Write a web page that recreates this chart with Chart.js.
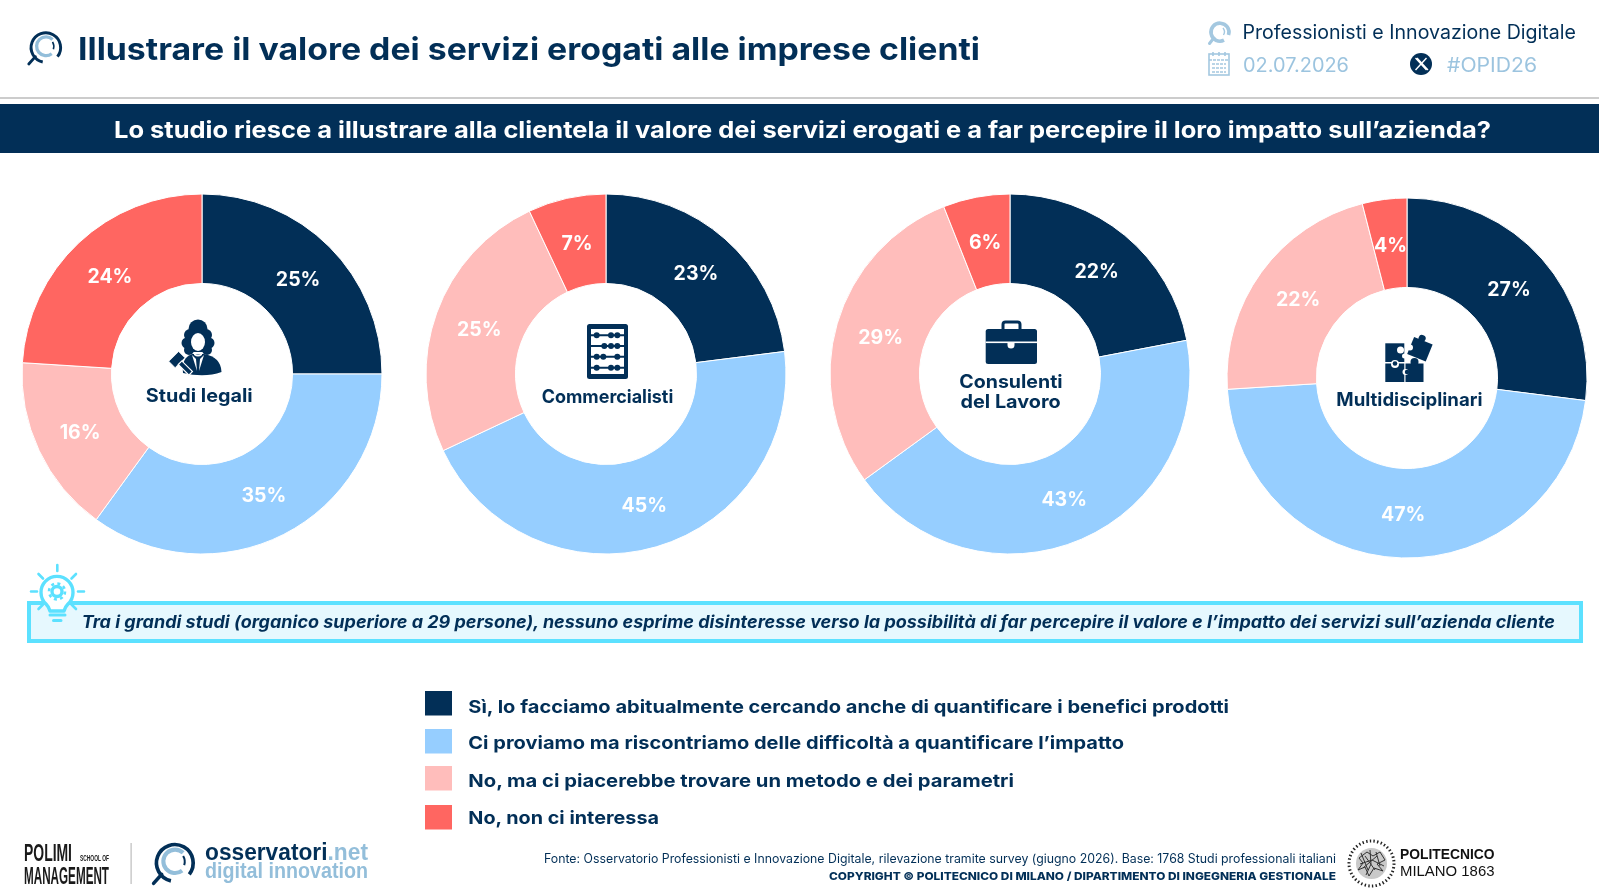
<!DOCTYPE html>
<html lang="it">
<head>
<meta charset="utf-8">
<title>Illustrare il valore dei servizi erogati alle imprese clienti</title>
<script src="https://cdn.jsdelivr.net/npm/chart.js@4"></script>
<style>
  html, body { margin: 0; padding: 0; background: #fff; }
  #page { position: relative; width: 1599px; height: 895px; overflow: hidden; }
  #page canvas { position: absolute; }
  #art { position: absolute; left: 0; top: 0; }
  text { font-family: Inter, sans-serif; }
</style>
</head>
<body>
<div id="page">
  <svg id="art" width="1599" height="895" viewBox="0 0 1599 895" xmlns="http://www.w3.org/2000/svg">
    <defs>
      <!-- observatory lens, drawn around 0,0 -->
      <g id="lensNavy" fill="none">
        <path d="M-4 19.5 A18 18 0 1 1 14 13" stroke="#022F57" stroke-width="3.6"/>
        <path d="M8 -8 A11.5 11.5 0 1 0 7 9.5" stroke="#93BEDA" stroke-width="4"/>
        <path d="M8 -5 A11 11 0 0 1 9 4" stroke="#022F57" stroke-width="2"/>
        <path d="M-13 13 L-21 22" stroke="#022F57" stroke-width="3.4" stroke-linecap="round"/>
      </g>
      <g id="lensPale" fill="none">
        <path d="M4 8.2 A9 9 0 1 1 8.5 3" stroke="#A4C8E0" stroke-width="3.6"/>
        <path d="M3 -4 A6 6 0 0 1 3.5 3" stroke="#A4C8E0" stroke-width="1.4"/>
        <path d="M-7 7 L-10.5 11.5" stroke="#A4C8E0" stroke-width="3" stroke-linecap="round"/>
      </g>
    </defs>

    <!-- header -->
    <use href="#lensNavy" transform="translate(46 46) scale(.82)"/>
    <use href="#lensPale" transform="translate(1220 32)"/>
    <rect x="1209" y="54" width="20" height="21" fill="none" stroke="#A4C8E0" stroke-width="1.6"/>
    <path d="M1209 60 H1229 M1212 64 H1226 M1212 68 H1226 M1212 72 H1226" stroke="#A4C8E0" stroke-width="1.6" stroke-dasharray="3 1"/>
    <path d="M1213 52 V56 M1219 52 V56 M1225 52 V56" stroke="#A4C8E0" stroke-width="1.6"/>
    <circle cx="1421" cy="64" r="11" fill="#022F57"/>
    <path d="M1415.5 58 L1426.5 70 M1417 58 L1428 70" stroke="#fff" stroke-width="1.3"/>
    <path d="M1426.5 58 L1415.5 70" stroke="#fff" stroke-width="1.4"/>
    <rect x="0" y="97" width="1599" height="2" fill="#CCCCCC"/>
    <rect x="0" y="104" width="1599" height="49" fill="#022F57"/>

    <!-- callout box and bulb -->
    <rect x="29" y="603" width="1552" height="38" fill="#E6F8FE" stroke="#5CE1FF" stroke-width="4"/>
    <path d="M46 604 A16 16 0 1 1 68 604 Q65 607 64 611 H50 Q49 607 46 604 Z" fill="#fff" stroke="#5CE1FF" stroke-width="3.4" stroke-linejoin="round"/>
    <circle cx="57" cy="591.5" r="5" fill="none" stroke="#5CE1FF" stroke-width="3.4"/>
    <circle cx="57" cy="591.5" r="8" fill="none" stroke="#5CE1FF" stroke-width="2.6" stroke-dasharray="3 3.3"/>
    <path d="M50 615 H65 M53.5 620.5 H61" stroke="#5CE1FF" stroke-width="3" stroke-linecap="round"/>
    <path d="M57.3 565 V571 M38.5 574 L43 578.5 M76 574 L71.5 578.5 M31 591.5 H37 M78 591.5 H84 M38.5 609 L43 604.5 M76 609 L71.5 604.5" stroke="#5CE1FF" stroke-width="2.6" stroke-linecap="round"/>

    <!-- lawyer -->
    <g fill="#022F57">
      <circle cx="198" cy="329" r="9.5"/><circle cx="190" cy="335" r="6"/><circle cx="206" cy="335" r="6"/>
      <circle cx="187" cy="343" r="5.5"/><circle cx="209" cy="343" r="5.5"/><circle cx="189" cy="350" r="5"/><circle cx="207" cy="350" r="5"/>
      <rect x="190" y="334" width="16" height="18"/>
      <path d="M183 373 Q181 358 192 354 H204 Q221 357 221.5 372 Q205 378 183 373 Z"/>
    </g>
    <ellipse cx="198" cy="342" rx="7" ry="9" fill="#fff"/>
    <path d="M192 355 L197 371 L196 359 Z M204 355 L199 371 L200 359 Z M194 353 Q198 356 202 353 L202 355 Q198 358 194 355 Z" fill="#fff"/>
    <g transform="rotate(45 179 361)">
      <rect x="172" y="354.5" width="9" height="14" fill="#022F57" stroke="#fff" stroke-width=".8"/>
      <rect x="181" y="359" width="15" height="5" fill="#022F57" stroke="#fff" stroke-width="1.2"/>
    </g>

    <!-- abacus -->
    <rect x="587" y="324" width="41" height="55" rx="2.5" fill="#022F57"/>
    <rect x="591" y="329" width="33" height="45" fill="#fff"/>
    <path d="M591 335.3 H624 M591 346 H624 M591 356.7 H624 M591 367.7 H624" stroke="#022F57" stroke-width="2"/>
    <g fill="#022F57">
      <circle cx="596.7" cy="335.3" r="3"/><circle cx="611" cy="335.3" r="3"/><circle cx="617.3" cy="335.3" r="3"/>
      <circle cx="604.3" cy="346" r="3"/><circle cx="611" cy="346" r="3"/><circle cx="617.3" cy="346" r="3"/>
      <circle cx="596.7" cy="356.7" r="3"/><circle cx="603.3" cy="356.7" r="3"/><circle cx="617.3" cy="356.7" r="3"/>
      <circle cx="596.7" cy="367.7" r="3"/><circle cx="611" cy="367.7" r="3"/><circle cx="617.3" cy="367.7" r="3"/>
    </g>

    <!-- briefcase -->
    <rect x="1003" y="322" width="17" height="11" rx="2.5" fill="none" stroke="#022F57" stroke-width="3"/>
    <rect x="985.7" y="329" width="51.3" height="35" rx="2.5" fill="#022F57"/>
    <rect x="985.7" y="341.5" width="51.3" height="1.6" fill="#fff"/>
    <path d="M1007.5 342 H1014.5 V345 A3.5 3.5 0 0 1 1007.5 345 Z" fill="#fff"/>

    <!-- puzzle -->
    <g fill="#022F57">
      <rect x="1385.3" y="343.3" width="19" height="18.7"/>
      <rect x="1385.3" y="363.5" width="19" height="18.5"/>
      <rect x="1405.5" y="363.5" width="18" height="18.5"/>
      <circle cx="1414.5" cy="362" r="4"/>
      <g transform="rotate(22 1420 349)">
        <rect x="1410" y="340" width="20" height="18.5"/>
        <circle cx="1418" cy="338.5" r="3.6"/>
      </g>
    </g>
    <g fill="#fff">
      <circle cx="1400.5" cy="350" r="3.5"/>
      <circle cx="1404.5" cy="356" r="2.5"/>
      <circle cx="1395" cy="364" r="4"/>
      <circle cx="1405.5" cy="372" r="3"/>
      <circle cx="1410" cy="347.5" r="3"/>
    </g>
    <circle cx="1395" cy="363.5" r="2.3" fill="#022F57"/>
    <circle cx="1407" cy="372" r="2.2" fill="#022F57"/>

    <!-- footer marks -->
    <rect x="130.5" y="843" width="1.2" height="41" fill="#BDBDBD"/>
    <use href="#lensNavy" transform="translate(175 861) scale(1.02)"/>
    <circle cx="1371.5" cy="863.5" r="22.5" fill="none" stroke="#222" stroke-width="3" stroke-dasharray="1.4 2.3"/>
    <circle cx="1371.5" cy="863.5" r="15.5" fill="#C9C9C9"/>
    <path d="M1359 858 L1367 852 L1373 856 L1380 852 L1385 860 L1377 864 L1383 871 L1374 868 L1369 876 L1365 867 L1358 870 L1363 863 Z M1365 856 L1375 870 M1377 856 L1363 868 M1360 864 L1372 860 L1384 866 M1370 850 L1371 864 L1366 875 M1376 852 L1380 866 M1361 853 L1368 870" fill="none" stroke="#333" stroke-width="1"/>
  </svg>
</div>

<script>
// answer labels and slice colours, same order as the values below
const answers = [
    'Sì, lo facciamo abitualmente cercando anche di quantificare i benefici prodotti',
    'Ci proviamo ma riscontriamo delle difficoltà a quantificare l’impatto',
    'No, ma ci piacerebbe trovare un metodo e dei parametri',
    'No, non ci interessa',
];
const sliceColors = ['#022F57', '#96CEFF', '#FFBDBB', '#FF6661'];

const studiLegali = [25, 35, 16, 24];
const commercialisti = [23, 45, 25, 7];
const consulentiLavoro = [22, 43, 29, 6];
const multidisciplinari = [27, 47, 22, 4];

const NAVY = '#022F57';
const PALE = '#9CC4DF';
const SVG_NS = 'http://www.w3.org/2000/svg';
const art = document.getElementById('art');
const page = document.getElementById('page');

// text stretched to run exactly from x to xEnd, the sans here is narrower than the layout needs
function label(str, x, xEnd, baseline, size, weight, fill, extra) {
    const t = document.createElementNS(SVG_NS, 'text');
    t.textContent = str;
    t.setAttribute('x', x);
    t.setAttribute('y', baseline);
    t.setAttribute('font-size', size);
    t.setAttribute('font-weight', weight);
    t.setAttribute('fill', fill);
    t.setAttribute('textLength', xEnd - x);
    t.setAttribute('lengthAdjust', 'spacingAndGlyphs');
    if (extra) {
        Object.keys(extra).forEach((k) => {
            if (k === 'family') t.style.fontFamily = extra[k];
            else t.setAttribute(k, extra[k]);
        });
    }
    art.appendChild(t);
}

// percentages sit in the middle of each ring slice, nudged down for optical centring
const percentLabels = {
    id: 'percentLabels',
    afterDatasetsDraw(chart) {
        const { ctx } = chart;
        const values = chart.data.datasets[0].data;
        ctx.save();
        ctx.font = '700 19.5px Inter, sans-serif';
        ctx.fillStyle = '#fff';
        ctx.textAlign = 'center';
        ctx.textBaseline = 'middle';
        chart.getDatasetMeta(0).data.forEach((arc, i) => {
            const { x, y } = arc.getCenterPoint();
            ctx.fillText(values[i] + '%', x + 0.5, y + 2);
        });
        ctx.restore();
    },
};

function donut(values, cx, cy) {
    const canvas = document.createElement('canvas');
    canvas.width = 380;
    canvas.height = 380;
    canvas.style.left = (cx - 190) + 'px';
    canvas.style.top = (cy - 190) + 'px';
    page.insertBefore(canvas, art);

    new Chart(canvas.getContext('2d'), {
        type: 'doughnut',
        data: {
            labels: answers,
            datasets: [{
                data: values,
                backgroundColor: sliceColors,
                borderColor: '#fff',
                borderWidth: 1,
            }],
        },
        options: {
            responsive: false,
            animation: false,
            radius: 180,
            cutout: '50.3%',
            plugins: { legend: { display: false }, tooltip: { enabled: false } },
        },
        plugins: [percentLabels],
    });
}

donut(studiLegali, 202, 373.5);
donut(commercialisti, 606, 374);
donut(consulentiLavoro, 1009.5, 374);
donut(multidisciplinari, 1407, 378);

// header
label('Illustrare il valore dei servizi erogati alle imprese clienti', 78, 980, 59.5, 31, 700, NAVY);
label('Professionisti e Innovazione Digitale', 1242.5, 1576, 38.5, 19.5, 400, NAVY);
label('02.07.2026', 1243, 1349, 71.5, 19.5, 400, PALE);
label('#OPID26', 1447, 1537, 71.5, 19.5, 400, PALE);
label('Lo studio riesce a illustrare alla clientela il valore dei servizi erogati e a far percepire il loro impatto sull’azienda?', 114, 1491, 137.5, 23.5, 700, '#fff');

// ring centres
label('Studi legali', 145.7, 252.7, 401.7, 18.5, 700, NAVY);
label('Commercialisti', 541.7, 673.3, 402.7, 18.5, 700, NAVY);
label('Consulenti', 959.3, 1062.6, 388.3, 18.5, 700, NAVY);
label('del Lavoro', 960.5, 1060.7, 408.3, 18.5, 700, NAVY);
label('Multidisciplinari', 1336.3, 1482.5, 406, 18.5, 700, NAVY);

// callout
label('Tra i grandi studi (organico superiore a 29 persone), nessuno esprime disinteresse verso la possibilità di far percepire il valore e l’impatto dei servizi sull’azienda cliente',
    81.7, 1555, 628, 17, 700, NAVY, { 'font-style': 'italic' });

// legend
const legendTop = [691, 729, 766, 805];
const legendBaseline = [713, 749, 787, 824];
const legendEnd = [1229, 1124, 1014, 659];
answers.forEach((text, i) => {
    const r = document.createElementNS(SVG_NS, 'rect');
    r.setAttribute('x', 425);
    r.setAttribute('y', legendTop[i]);
    r.setAttribute('width', 27);
    r.setAttribute('height', 24.5);
    r.setAttribute('fill', sliceColors[i]);
    art.appendChild(r);
    label(text, 468.3, legendEnd[i], legendBaseline[i], 18, 700, NAVY);
});

// footer
const narrow = { family: '"Liberation Sans Narrow", "Liberation Sans", sans-serif' };
label('POLIMI', 24, 72, 861, 24, 700, '#1A1A1A', narrow);
label('SCHOOL OF', 80, 109, 860.7, 9.5, 700, '#1A1A1A', narrow);
label('MANAGEMENT', 24, 109, 884.3, 24, 700, '#1A1A1A', narrow);

const arial = { family: '"Liberation Sans", sans-serif' };
label('osservatori', 205, 327.5, 859.5, 23, 700, NAVY, arial);
label('.net', 327.5, 368, 859.5, 23, 700, '#93BEDA', arial);
label('digital innovation', 205, 368, 877.7, 21.5, 700, '#93BEDA', arial);

label('Fonte: Osservatorio Professionisti e Innovazione Digitale, rilevazione tramite survey (giugno 2026). Base: 1768 Studi professionali italiani',
    544, 1336, 863, 12.5, 400, NAVY);
label('COPYRIGHT © POLITECNICO DI MILANO / DIPARTIMENTO DI INGEGNERIA GESTIONALE', 829, 1336, 880, 11, 800, NAVY);
label('POLITECNICO', 1400, 1494.5, 859, 14.5, 700, '#111', arial);
label('MILANO 1863', 1400, 1494.5, 875.7, 14.5, 400, '#111', arial);
</script>
</body>
</html>
